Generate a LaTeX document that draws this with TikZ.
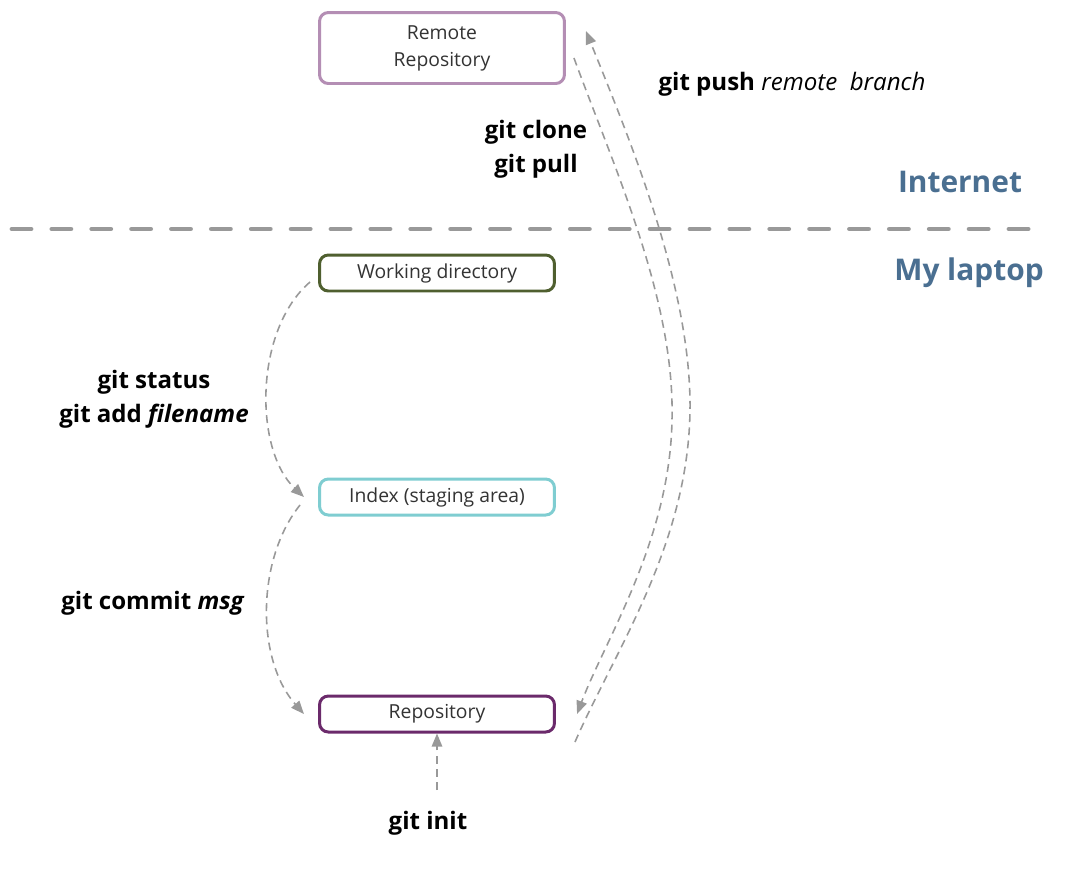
\documentclass[tikz,border=0pt]{standalone}
\usepackage{fontspec}
\setmainfont{Open Sans}
\usetikzlibrary{arrows.meta}
\definecolor{lineGray}{HTML}{999999}
\definecolor{zoneBlue}{HTML}{4A6F91}
\definecolor{remoteLilac}{HTML}{B48EB4}
\definecolor{workGreen}{HTML}{4F5F2F}
\definecolor{indexTeal}{HTML}{7FCDD1}
\definecolor{repoPurple}{HTML}{6B2A6B}
\begin{document}
\begin{tikzpicture}[x=0.02cm,y=-0.02cm,
    area/.style={shape=rectangle, rounded corners=5pt, line width=1.7pt, fill=white,
                 minimum width=4.7cm, minimum height=0.72cm, inner sep=2pt,
                 text=black!80, font=\fontsize{11}{15.3}\selectfont, align=center},
    cmd/.style={font=\fontsize{13.7}{19.5}\selectfont\bfseries, align=center},
    zone/.style={font=\fontsize{17}{20}\selectfont\bfseries, text=zoneBlue},
    flow/.style={draw=lineGray, line width=0.9pt, dash pattern=on 4.5pt off 3pt,
                 -{Triangle[length=7.5pt,width=6pt]}}]
                \useasboundingbox (0,0) rectangle (1065,890);

                \node[area, draw=remoteLilac, minimum width=4.9cm, minimum height=1.42cm] (remote) at (442,48) {Remote\\Repository};
                \node[area, draw=workGreen] (work) at (437,273) {Working directory};
                \node[area, draw=indexTeal] (index) at (437,497) {Index (staging area)};
                \node[area, draw=repoPurple] (repo) at (437,714) {Repository};

                \node[cmd] (push) at (792,84) {git push {\mdseries\itshape remote\ \ branch}};
                \node[cmd] (clone) at (536,149) {git clone\\git pull};
                \node[cmd] (add) at (154,399) {git status\\git add \textit{filename}};
                \node[cmd] (commit) at (153,603) {git commit \textit{msg}};
                \node[cmd] (init) at (428,823) {git init};

                \node[zone] (internet) at (960,182) {Internet};
                \node[zone] (laptop) at (969,273) {My laptop};

                % border between the two zones
                \coordinate (borderL) at (12,229);
                \coordinate (borderR) at (1037,229);
                \draw[lineGray, line width=2.8pt, line cap=round, dash pattern=on 10.8pt off 11.9pt] (borderL) -- (borderR);

                \draw[flow] ([shift={(-8,9)}]work.west) .. controls (254,330) and (254,450) .. ([xshift=-8]index.west);
                \draw[flow] ([shift={(-18,8)}]index.west) .. controls (256,560) and (256,660) .. ([xshift=-8]repo.west);

                \coordinate (initTop) at (437,790);
                \draw[flow] (initTop) -- (repo.south);

                \draw[flow] ([shift={(8,10)}]remote.east) .. controls (615,170) and (675,300) .. (672,420)
                            .. controls (670,540) and (605,640) .. ([xshift=12]repo.east);
                \coordinate (pushStart) at (575,742);
                \draw[flow] (pushStart) .. controls (615,650) and (692,540) .. (690,400)
                            .. controls (688,280) and (630,140) .. ([shift={(20,-17)}]remote.east);

            \end{tikzpicture}
\end{document}
